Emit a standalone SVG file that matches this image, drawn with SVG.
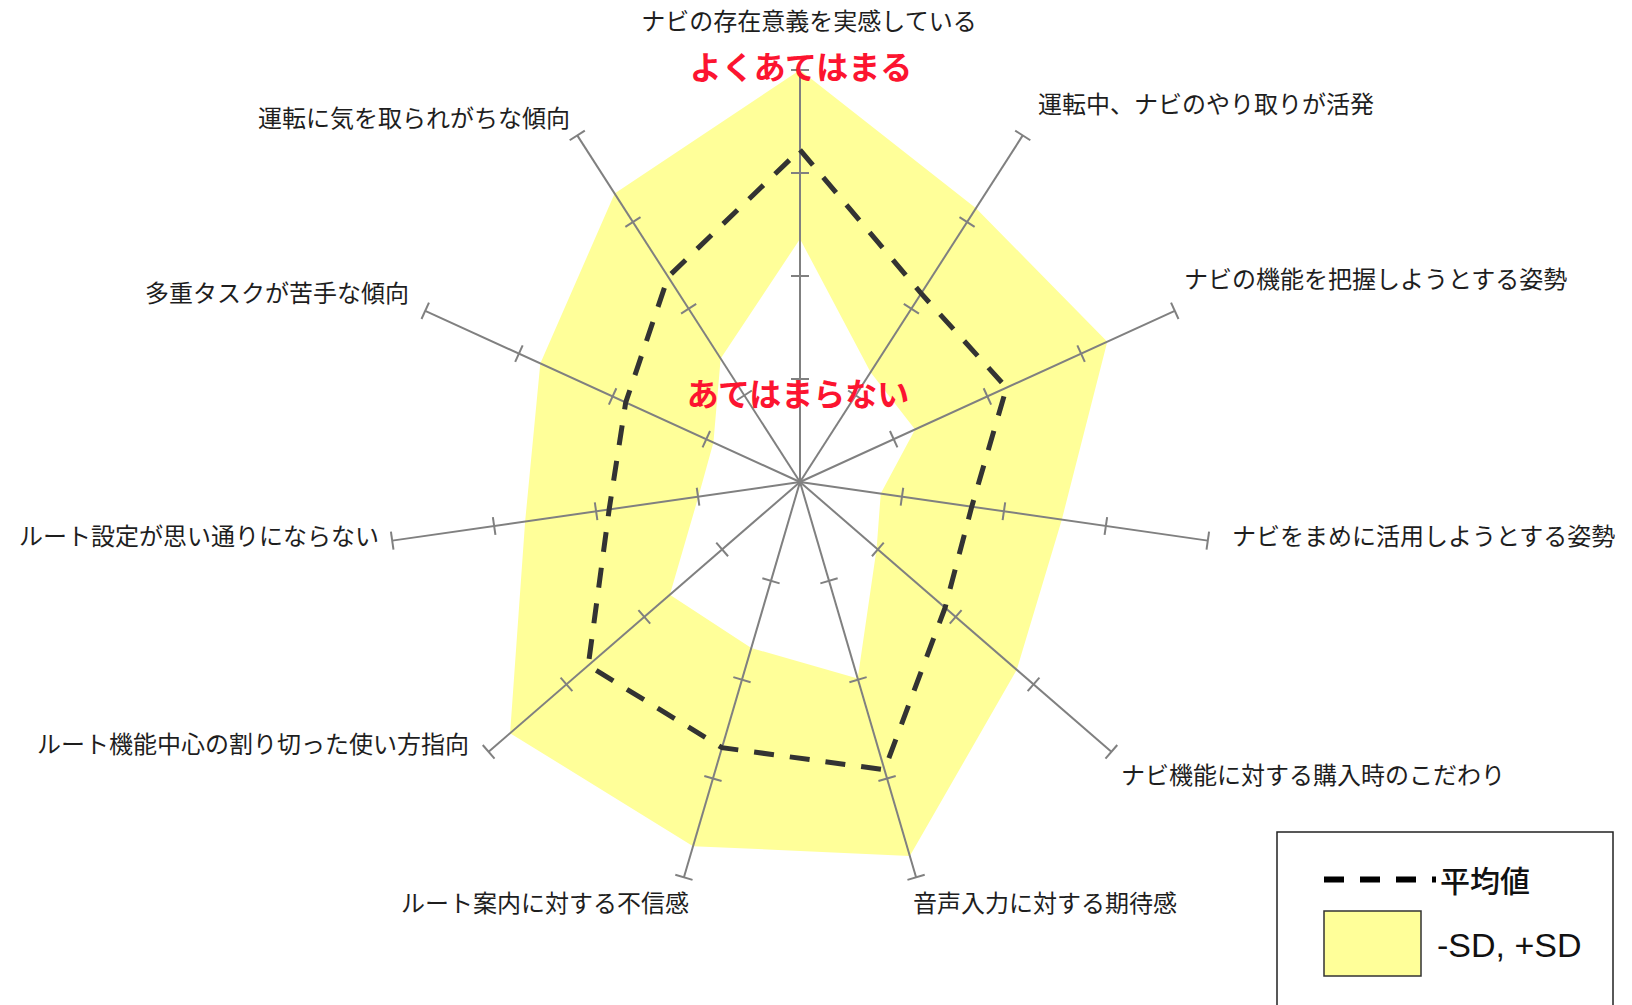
<svg xmlns="http://www.w3.org/2000/svg" xmlns:xlink="http://www.w3.org/1999/xlink" width="1632" height="1005" viewBox="0 0 1632 1005">
  <style>
    .band { fill: #ffff99; fill-rule: evenodd; stroke: none; }
    .axisline { stroke: #808080; stroke-width: 2; fill: none; }
    .mean { fill: none; stroke: #333333; stroke-width: 5; stroke-dasharray: 20 16; stroke-linejoin: miter; }
    .lbl { font-family: "Noto Sans CJK JP", "Noto Sans", sans-serif; font-size: 24px; fill: #1e1e1e; dominant-baseline: central; }
    .red { font-family: "Noto Sans CJK JP", "Noto Sans", sans-serif; font-size: 32px; font-weight: bold; fill: #fc1430; dominant-baseline: central; text-anchor: middle; }
  </style>
  <defs>
    <g id="axisShape" stroke="#808080" stroke-width="2" fill="none">
      <line class="axisline" x1="800" y1="482" x2="800" y2="70"/>
      <line class="axisline" x1="791" y1="379" x2="809" y2="379"/>
      <line class="axisline" x1="791" y1="276" x2="809" y2="276"/>
      <line class="axisline" x1="791" y1="173" x2="809" y2="173"/>
      <line class="axisline" x1="791" y1="70" x2="809" y2="70"/>
    </g>
  </defs>
  <rect x="0" y="0" width="1632" height="1005" fill="#ffffff"/>

  <g id="sd-band">
    <path class="band" d="M800,70 L975.98,208.17 L1107.27,341.67 L1061.81,519.64 L1016.75,669.81 L909.82,856.01 L693.08,846.13 L510.09,733.2 L525.13,521.52 L540.3,363.4 L614.67,193.62 Z M800,238.9 L870.61,372.13 L915.07,429.45 L880.77,493.61 L876.63,548.4 L857.7,678.5 L751.26,647.99 L669.86,594.77 L698.44,496.6 L713.4,442.45 L720.69,358.59 Z"/>
  </g>

  <g id="axes">
    <use xlink:href="#axisShape" href="#axisShape"/>
    <use xlink:href="#axisShape" href="#axisShape" transform="rotate(32.7273 800 482)"/>
    <use xlink:href="#axisShape" href="#axisShape" transform="rotate(65.4545 800 482)"/>
    <use xlink:href="#axisShape" href="#axisShape" transform="rotate(98.1818 800 482)"/>
    <use xlink:href="#axisShape" href="#axisShape" transform="rotate(130.9091 800 482)"/>
    <use xlink:href="#axisShape" href="#axisShape" transform="rotate(163.6364 800 482)"/>
    <use xlink:href="#axisShape" href="#axisShape" transform="rotate(196.3636 800 482)"/>
    <use xlink:href="#axisShape" href="#axisShape" transform="rotate(229.0909 800 482)"/>
    <use xlink:href="#axisShape" href="#axisShape" transform="rotate(261.8182 800 482)"/>
    <use xlink:href="#axisShape" href="#axisShape" transform="rotate(294.5455 800 482)"/>
    <use xlink:href="#axisShape" href="#axisShape" transform="rotate(327.2727 800 482)"/>
  </g>

  <g id="mean-line">
    <path class="mean" d="M800,149.9 L921.16,293.47 L1006.49,387.7 L971.73,506.69 L945.1,607.73 L884.49,769.75 L721.99,747.68 L588.24,665.49 L609.16,509.44 L625.72,402.41 L668.14,276.82 Z"/>
  </g>

  <g id="scale-labels">
    <text class="red" x="801" y="65">よくあてはまる</text>
    <text class="red" x="798" y="392">あてはまらない</text>
  </g>

  <g id="axis-labels">
    <g id="label-0"><text class="lbl" x="809" y="19" text-anchor="middle">ナビの存在意義を実感している</text></g>
    <g id="label-1"><text class="lbl" x="1038" y="102" text-anchor="start">運転中、ナビのやり取りが活発</text></g>
    <g id="label-2"><text class="lbl" x="1184" y="277" text-anchor="start">ナビの機能を把握しようとする姿勢</text></g>
    <g id="label-3"><text class="lbl" x="1232" y="534" text-anchor="start">ナビをまめに活用しようとする姿勢</text></g>
    <g id="label-4"><text class="lbl" x="1121" y="773" text-anchor="start">ナビ機能に対する購入時のこだわり</text></g>
    <g id="label-5"><text class="lbl" x="913" y="901" text-anchor="start">音声入力に対する期待感</text></g>
    <g id="label-6"><text class="lbl" x="689" y="901" text-anchor="end">ルート案内に対する不信感</text></g>
    <g id="label-7"><text class="lbl" x="469" y="742" text-anchor="end">ルート機能中心の割り切った使い方指向</text></g>
    <g id="label-8"><text class="lbl" x="379" y="534" text-anchor="end">ルート設定が思い通りにならない</text></g>
    <g id="label-9"><text class="lbl" x="409" y="291" text-anchor="end">多重タスクが苦手な傾向</text></g>
    <g id="label-10"><text class="lbl" x="570" y="116" text-anchor="end">運転に気を取られがちな傾向</text></g>
  </g>

  <g id="legend">
    <rect x="1277" y="832" width="336" height="200" fill="#ffffff" stroke="#222222" stroke-width="1.5"/>
    <line x1="1324" y1="879.5" x2="1436" y2="879.5" stroke="#000000" stroke-width="6" stroke-dasharray="20 16"/>
    <text x="1440" y="879" font-family="'Noto Sans CJK JP', sans-serif" font-size="30" font-weight="500" fill="#111111" dominant-baseline="central">平均値</text>
    <rect x="1324" y="911" width="97" height="65" fill="#ffff99" stroke="#333333" stroke-width="1.5"/>
    <text x="1437" y="956.5" font-family="'Liberation Sans', Arial, sans-serif" font-size="34" fill="#111111">-SD, +SD</text>
  </g>
</svg>
